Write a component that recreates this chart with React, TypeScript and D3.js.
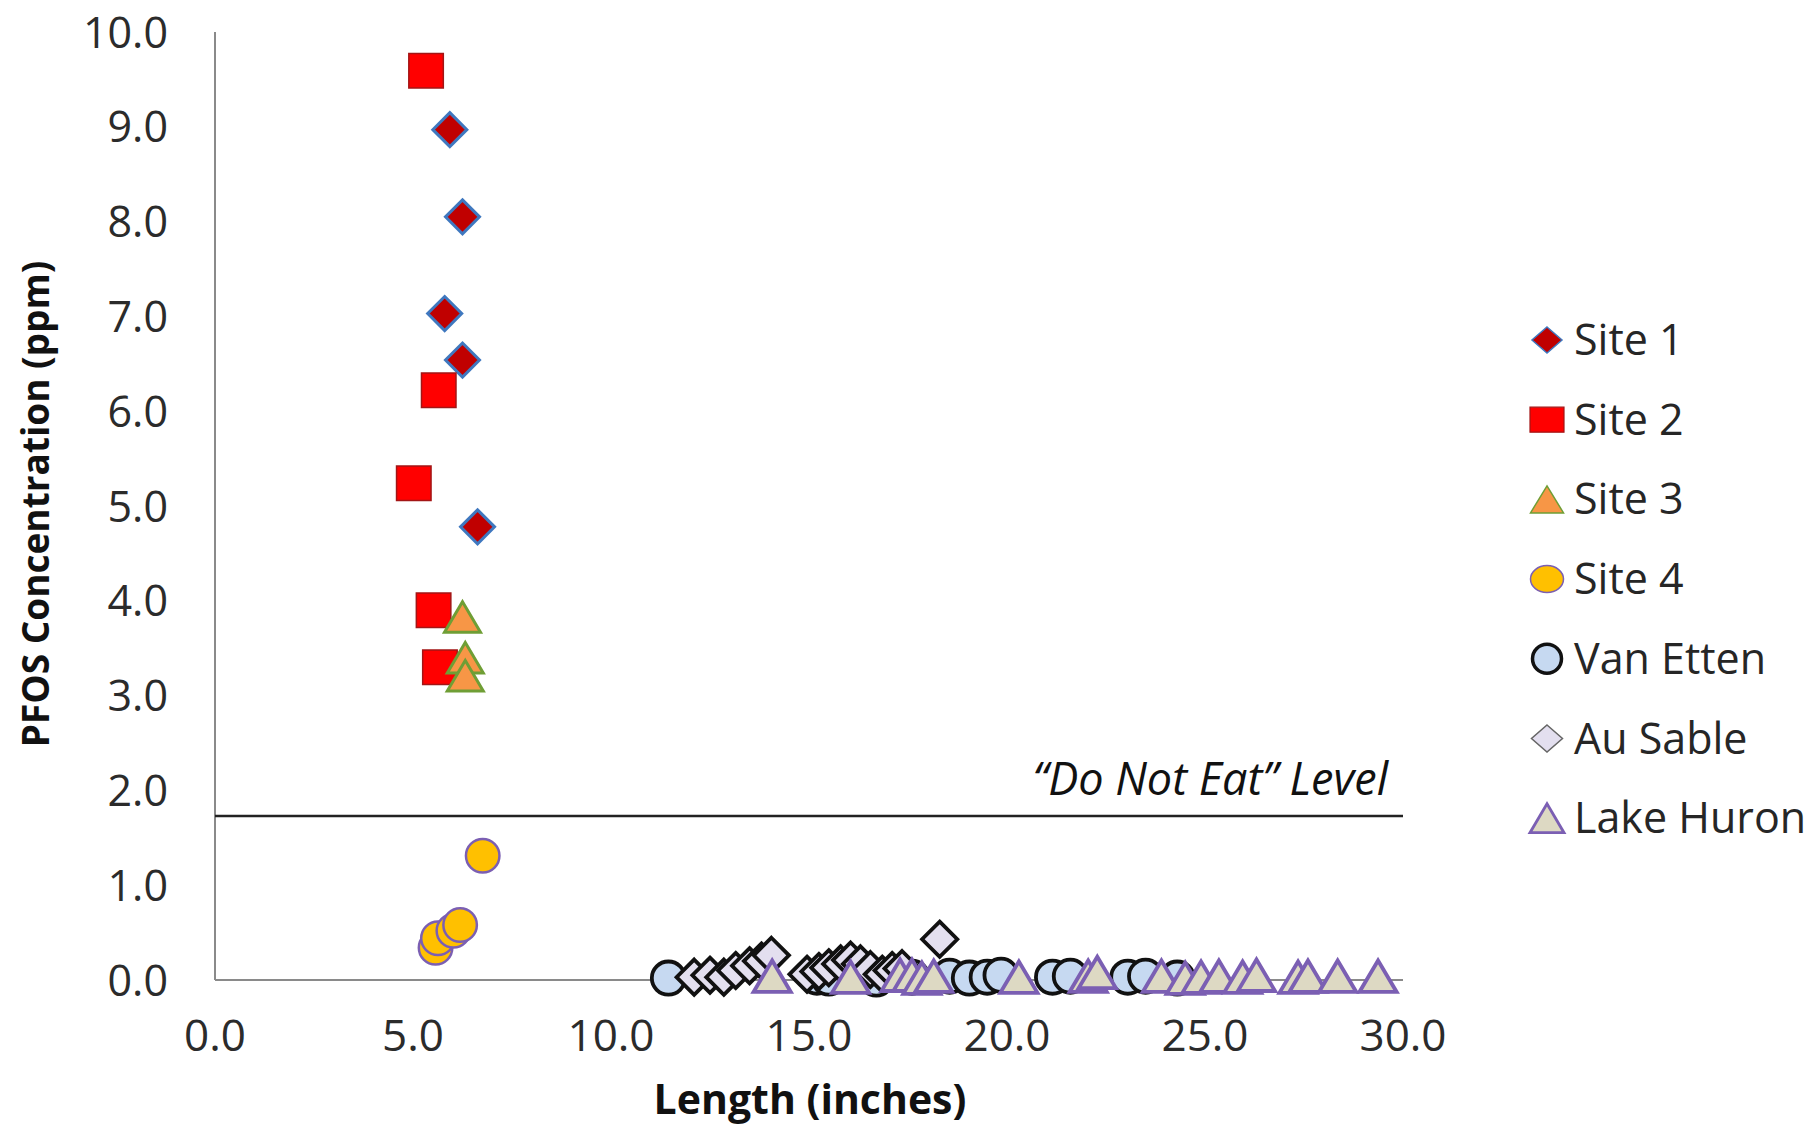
import React from "react";
import * as d3 from "d3";

const W = 1810;
const H = 1126;

// ---- data ----
const xTicks = [0, 5, 10, 15, 20, 25, 30];
const yTicks = [0, 1, 2, 3, 4, 5, 6, 7, 8, 9, 10];
const doNotEatLevel = 1.73;

const site1: [number, number][] = [
  [5.93, 8.97], [6.25, 8.05], [5.8, 7.03], [6.25, 6.54], [6.63, 4.78],
];
const site2: [number, number][] = [
  [5.33, 9.59], [5.65, 6.22], [5.02, 5.24], [5.52, 3.9], [5.68, 3.3],
];
const site3: [number, number][] = [
  [6.25, 3.83], [6.32, 3.4], [6.32, 3.21],
];
const site4: [number, number][] = [
  [5.57, 0.34], [5.63, 0.44], [6.02, 0.52], [6.19, 0.58], [6.76, 1.31],
];
const vanEtten: [number, number][] = [
  [11.45, 0.02], [15.2, 0.03], [15.5, 0.02], [16.7, 0.01], [17.6, 0.03],
  [18.55, 0.04], [19.05, 0.02], [19.5, 0.03], [19.85, 0.05], [21.15, 0.03],
  [21.6, 0.04], [23.05, 0.03], [23.5, 0.04], [24.3, 0.02],
];
const auSable: [number, number][] = [
  [12.1, 0.03], [12.5, 0.05], [12.85, 0.03], [13.15, 0.1], [13.5, 0.15],
  [13.8, 0.2], [14.05, 0.26], [14.95, 0.06], [15.25, 0.09], [15.5, 0.13],
  [15.8, 0.17], [16.05, 0.21], [16.3, 0.17], [16.55, 0.11], [16.85, 0.06],
  [17.1, 0.1], [17.35, 0.12], [18.3, 0.43],
];
const lakeHuron: [number, number][] = [
  [14.07, 0.04], [16.05, 0.03], [17.3, 0.05], [17.6, 0.05], [17.85, 0.02],
  [18.15, 0.04], [20.3, 0.03], [22.05, 0.04], [22.28, 0.08], [23.9, 0.04],
  [24.5, 0.02], [24.9, 0.03], [25.35, 0.04], [25.95, 0.03], [26.3, 0.05],
  [27.35, 0.03], [27.6, 0.04], [28.35, 0.04], [29.37, 0.04],
];

type Shape = "diamond" | "square" | "triangle" | "circle";
interface Series {
  name: string;
  data: [number, number][];
  shape: Shape;
  fill: string;
  stroke: string;
  sw: number;
  size: number;
  legendW: number;
  legendH: number;
  legendSw: number;
  legendStroke: string;
}

const series: Series[] = [
  { name: "Site 1", data: site1, shape: "diamond", fill: "#c00000", stroke: "#3f78bf", sw: 3, size: 37, legendW: 30, legendH: 26, legendSw: 1.5, legendStroke: "#3f78bf" },
  { name: "Site 2", data: site2, shape: "square", fill: "#ff0000", stroke: "#a31515", sw: 1.5, size: 36, legendW: 34, legendH: 25, legendSw: 1.2, legendStroke: "#a31515" },
  { name: "Site 3", data: site3, shape: "triangle", fill: "#f79646", stroke: "#6f9e35", sw: 3, size: 39, legendW: 33, legendH: 27, legendSw: 1.5, legendStroke: "#6f9e35" },
  { name: "Site 4", data: site4, shape: "circle", fill: "#ffc000", stroke: "#7b5fb3", sw: 2.5, size: 36, legendW: 33, legendH: 27, legendSw: 1.5, legendStroke: "#7b5fb3" },
  { name: "Van Etten", data: vanEtten, shape: "circle", fill: "#c6d9f1", stroke: "#111111", sw: 3.8, size: 37, legendW: 29, legendH: 29, legendSw: 3.5, legendStroke: "#111111" },
  { name: "Au Sable", data: auSable, shape: "diamond", fill: "#e3dfef", stroke: "#111111", sw: 3.8, size: 39, legendW: 31, legendH: 27, legendSw: 1.5, legendStroke: "#666666" },
  { name: "Lake Huron", data: lakeHuron, shape: "triangle", fill: "#ddd9c3", stroke: "#7b5fb3", sw: 3.8, size: 41, legendW: 34, legendH: 29, legendSw: 2.8, legendStroke: "#7b5fb3" },
];

function markerPath(shape: Shape, w: number, h: number): string {
  const a = w / 2;
  const b = h / 2;
  if (shape === "diamond") return `M0,${-b}L${a},0L0,${b}L${-a},0Z`;
  if (shape === "square") return `M${-a},${-b}H${a}V${b}H${-a}Z`;
  if (shape === "triangle") return `M0,${-b}L${a},${b}L${-a},${b}Z`;
  return `M${-a},0A${a},${b} 0 1,0 ${a},0A${a},${b} 0 1,0 ${-a},0Z`;
}

const FONT = "'Open Sans', 'DejaVu Sans', sans-serif";

export default function App() {
  const x = d3.scaleLinear().domain([0, 30]).range([215, 1403]);
  const y = d3.scaleLinear().domain([0, 10]).range([980, 32]);

  const legendX = 1547;
  const legendTextX = 1574;
  const legendY0 = 340;
  const legendStep = 79.7;

  return (
    <svg
      width={W}
      height={H}
      viewBox={`0 0 ${W} ${H}`}
      style={{ position: "absolute", left: 0, top: 0, background: "#fff" }}
    >
      <rect x={0} y={0} width={W} height={H} fill="#fff" />

      {/* axes */}
      <line x1={x(0)} x2={x(0)} y1={y(10)} y2={y(0)} stroke="#8a8a8a" strokeWidth={2} />
      <line x1={x(0)} x2={x(30)} y1={y(0)} y2={y(0)} stroke="#8a8a8a" strokeWidth={2} />

      {/* y tick labels */}
      {yTicks.map((t) => (
        <text
          key={"y" + t}
          x={168}
          y={y(t) + 15.5}
          textAnchor="end"
          fontFamily={FONT}
          fontSize={43}
          fill="#2b2b2b"
        >
          {t.toFixed(1)}
        </text>
      ))}

      {/* x tick labels */}
      {xTicks.map((t) => (
        <text
          key={"x" + t}
          x={x(t)}
          y={1051}
          textAnchor="middle"
          fontFamily={FONT}
          fontSize={44}
          fill="#2b2b2b"
        >
          {t.toFixed(1)}
        </text>
      ))}

      {/* axis titles */}
      <text
        transform={`translate(49,504) rotate(-90)`}
        textAnchor="middle"
        fontFamily={FONT}
        fontWeight="bold"
        fontSize={37}
        fill="#111"
      >
        PFOS Concentration (ppm)
      </text>
      <text
        x={810}
        y={1114}
        textAnchor="middle"
        fontFamily={FONT}
        fontWeight="bold"
        fontSize={41}
        fill="#111"
      >
        Length (inches)
      </text>

      {/* do not eat line */}
      <line
        x1={x(0)}
        x2={x(30)}
        y1={y(doNotEatLevel)}
        y2={y(doNotEatLevel)}
        stroke="#222"
        strokeWidth={2.6}
      />
      <text
        x={1388}
        y={795}
        textAnchor="end"
        fontFamily={FONT}
        fontStyle="italic"
        fontSize={45}
        fill="#111"
      >
        “Do Not Eat” Level
      </text>

      {/* markers */}
      {series.map((s) => {
        const h = s.shape === "triangle" ? s.size * 0.86 : s.size;
        const d = markerPath(s.shape, s.size - s.sw, h - s.sw);
        const sorted = [...s.data].sort((a, b) => a[0] - b[0]);
        return (
          <g key={s.name}>
            {sorted.map((p, i) => (
              <path
                key={i}
                d={d}
                transform={`translate(${x(p[0])},${y(p[1])})`}
                fill={s.fill}
                stroke={s.stroke}
                strokeWidth={s.sw}
                strokeLinejoin="miter"
              />
            ))}
          </g>
        );
      })}

      {/* legend */}
      {series.map((s, i) => {
        const cy = legendY0 + i * legendStep;
        return (
          <g key={"lg" + s.name}>
            <path
              d={markerPath(s.shape, s.legendW, s.legendH)}
              transform={`translate(${legendX},${cy})`}
              fill={s.fill}
              stroke={s.legendStroke}
              strokeWidth={s.legendSw}
            />
            <text
              x={legendTextX}
              y={cy + 15}
              fontFamily={FONT}
              fontSize={43}
              fill="#262626"
            >
              {s.name}
            </text>
          </g>
        );
      })}
    </svg>
  );
}
